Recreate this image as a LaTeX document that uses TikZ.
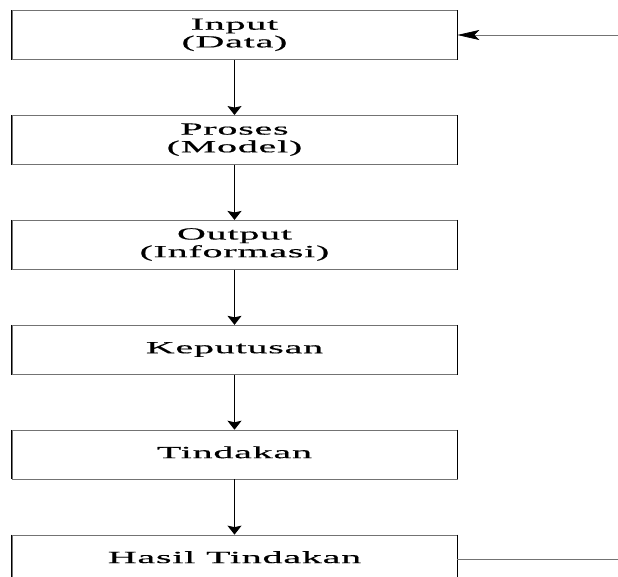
\documentclass[tikz,border=0pt]{standalone}
\usepackage{fontspec}
\usepackage{graphicx}
\usepackage{tikz}
\usetikzlibrary{arrows.meta, positioning}
\newfontfamily\boxfont{Liberation Serif}[LetterSpace=2, FakeBold=0.4]
\newcommand\lebar[1]{\scalebox{2.35}[1]{\begin{tabular}{@{}c@{}}#1\end{tabular}}}

\begin{document}
\begin{tikzpicture}[node distance=55.2pt, auto]
    % Styles
    \tikzstyle{block} = [rectangle, draw=black!55, line width=0.7pt, minimum width=445pt, minimum height=49pt, align=center, inner sep=0pt, font=\boxfont\fontsize{17}{17.7}\selectfont,
        append after command={[black, line width=1.2pt] (\tikzlastnode.north west) edge[-] (\tikzlastnode.south west) (\tikzlastnode.north east) edge[-] (\tikzlastnode.south east)}]
    \tikzstyle{line} = [draw, line width=1.1pt, -{Stealth[length=9pt, width=14pt, inset=1.5pt]}]
    \tikzstyle{side} = [draw, black!55, line width=0.7pt]

    \useasboundingbox (0,0) rectangle (618pt,-577pt);

    % Nodes
    \node [block] (input) at (234.5pt,-35pt) {\lebar{Input\\(Data)}};
    \node [block, below=of input] (proses) {\lebar{Proses\\(Model)}};
    \node [block, below=of proses] (output) {\lebar{Output\\(Informasi)}};
    \node [block, below=of output] (keputusan) {\lebar{Keputusan}};
    \node [block, below=of keputusan] (tindakan) {\lebar{Tindakan}};
    \node [block, below=of tindakan] (hasil) {\lebar{Hasil Tindakan}};

    % Side ends
    \coordinate (umpan) at (618pt,-35pt);
    \coordinate (keluar) at (hasil.east -| umpan);

    % Paths
    \path [line] (input) -- (proses);
    \path [line] (proses) -- (output);
    \path [line] (output) -- (keputusan);
    \path [line] (keputusan) -- (tindakan);
    \path [line] (tindakan) -- (hasil);
    \path [side, -{Stealth[length=22pt, width=10pt, inset=5pt, black]}] (umpan) -- (input.east);
    \path [side] (hasil.east) -- (keluar);
\end{tikzpicture}
\end{document}
